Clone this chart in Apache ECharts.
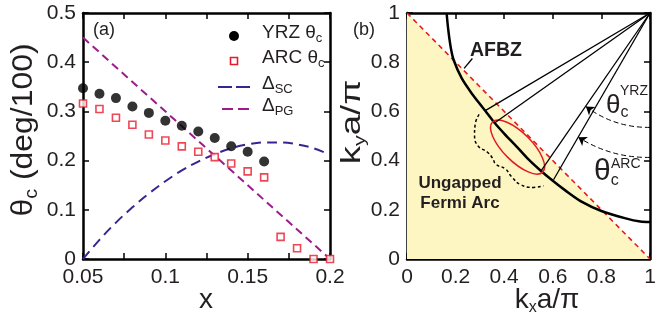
<!DOCTYPE html>
<html><head><meta charset="utf-8">
<script src="https://cdn.jsdelivr.net/npm/echarts@6/dist/echarts.min.js"></script>
<style>html,body{margin:0;padding:0;background:#fff}#c{width:668px;height:320px}</style>
</head><body><div id="c"></div>
<script>
// ---------- Panel (a) data ----------
const yrzX = [0.05,0.06,0.07,0.08,0.09,0.10,0.11,0.12,0.13,0.14,0.15,0.16];
const yrzTheta = [0.347,0.336,0.327,0.310,0.297,0.281,0.271,0.259,0.246,0.229,0.218,0.198];
const arcX = [0.05,0.06,0.07,0.08,0.09,0.10,0.11,0.12,0.13,0.14,0.15,0.16,0.17,0.18,0.19,0.20];
const arcTheta = [0.316,0.305,0.287,0.273,0.253,0.241,0.229,0.218,0.207,0.194,0.178,0.166,0.045,0.022,0.0,0.0];
const scX = [0.05,0.06,0.07,0.08,0.09,0.10,0.11,0.12,0.13,0.14,0.15,0.16,0.17,0.18,0.19,0.20];
const scGap = [0.0,0.039,0.074,0.105,0.133,0.158,0.180,0.198,0.213,0.225,0.233,0.237,0.237,0.233,0.225,0.212];
const pgX = [0.05,0.20];
const pgGap = [0.45,0.0];
const aXTickVals = [0.05,0.1,0.15,0.2];
const aXTickLabels = ['0.05','0.1','0.15','0.2'];
const aYTickLabels = ['0','0.1','0.2','0.3','0.4','0.5'];
const legendLabels = ['{n|YRZ θ}{s|c}','{n|ARC θ}{s|c}','{n|Δ}{s|SC}','{n|Δ}{s|PG}'];
// ---------- Panel (b) data ----------
const bTickLabels = ['0','0.2','0.4','0.6','0.8','1'];
const afbzKx = [0,1];
const afbzKy = [1,0];
const fsKx = [0.163,0.170,0.180,0.192,0.225,0.265,0.300,0.322,0.362,0.400,0.454,0.500,0.547,0.600,0.650,0.720,0.800,0.900,0.960,1.000];
const fsKy = [1.000,0.930,0.860,0.809,0.735,0.675,0.630,0.603,0.552,0.510,0.454,0.405,0.362,0.318,0.280,0.232,0.195,0.165,0.152,0.150];
const pocket = [0.455,0.455,0.145,0.058]; // centre kx, ky, semi-major, semi-minor (along anti-diagonal)
const wedgeApex = [1,1];
const wedgeEndsKx = [0.322,0.360,0.553,0.603];
const wedgeEndsKy = [0.603,0.553,0.360,0.322];
const arcPtrKx = [0.297,0.281,0.278,0.292,0.330,0.352,0.366,0.405,0.430,0.468,0.521,0.562];
const arcPtrKy = [0.588,0.550,0.505,0.460,0.435,0.410,0.385,0.366,0.335,0.302,0.291,0.298];
const yrzArrowKx = [1.0,0.736], yrzArrowKy = [0.535,0.620];
const arcArrowKx = [1.0,0.705], arcArrowKy = [0.413,0.495];
const afbzPtrKx = [0.269,0.235], afbzPtrKy = [0.815,0.775];

const zip = (a,b) => a.map((v,i)=>[v,b[i]]);
const FONT = '"Liberation Sans", Arial, sans-serif';
const TXT = '#231f20';
const C_SC = '#3b2392', C_PG = '#9c1c8c', C_ARC = '#e8192c', C_RED = '#e31b23';

const chart = echarts.init(document.getElementById('c'), null, {renderer:'canvas'});

function ax(grid, pos, min, max, interval, labels, fmt, margin){
  return {gridIndex:grid, type:'value', position:pos, min:min, max:max, interval:interval,
    axisLine:{show:true, onZero:false, lineStyle:{color:'#000', width:2.5}},
    axisTick:{show:true, inside:true, length:6, lineStyle:{color:'#000', width:1.5}},
    axisLabel:{show:labels, formatter:fmt, fontSize:21, color:TXT, fontFamily:FONT, margin:margin, showMinLabel:true, showMaxLabel:true},
    splitLine:{show:false}};
}
const fmtAX = v => { const i = aXTickVals.indexOf(+(+v).toFixed(3)); return i>=0 ? aXTickLabels[i] : ''; };
const fmtAY = v => aYTickLabels[Math.round(v*10)] || '';
const fmtB = v => bTickLabels[Math.round(v*5)] || '';

const legRich = {n:{fontSize:19, lineHeight:24, fontFamily:FONT, fill:TXT},
                 s:{fontSize:13, lineHeight:5, verticalAlign:'bottom', fontFamily:FONT, fill:TXT}};
const legTextY = [32.5, 57.5, 83.5, 105.5];

const option = {
  animation:false,
  backgroundColor:'#fff',
  grid:[
    {left:83, top:13, width:247, height:246},
    {left:407, top:13, width:243, height:246}
  ],
  xAxis:[
    ax(0,'bottom',0.05,0.2,0.025,true,fmtAX,8),
    ax(0,'top',0.05,0.2,0.025,false,fmtAX,8),
    ax(1,'bottom',0,1,0.2,true,fmtB,8),
    ax(1,'top',0,1,0.2,false,fmtB,8)
  ],
  yAxis:[
    ax(0,'left',0,0.5,0.1,true,fmtAY,7),
    ax(0,'right',0,0.5,0.1,false,fmtAY,7),
    ax(1,'left',0,1,0.2,true,fmtB,7),
    ax(1,'right',0,1,0.2,false,fmtB,7)
  ],
  series:[
    {name:'SC', type:'line', xAxisIndex:0, yAxisIndex:0, data:zip(scX,scGap), smooth:0.4, symbol:'none',
      lineStyle:{color:C_SC, width:2, type:[10,6]}, z:2},
    {name:'PG', type:'line', xAxisIndex:0, yAxisIndex:0, data:zip(pgX,pgGap), symbol:'none',
      lineStyle:{color:C_PG, width:2, type:[8,5]}, z:2},
    {name:'YRZ', type:'scatter', xAxisIndex:0, yAxisIndex:0, data:zip(yrzX,yrzTheta), symbol:'circle', symbolSize:10,
      itemStyle:{color:'#000'}, z:4},
    {name:'ARC', type:'scatter', xAxisIndex:0, yAxisIndex:0, data:zip(arcX,arcTheta), symbol:'rect', symbolSize:7,
      itemStyle:{color:'#fff', borderColor:C_ARC, borderWidth:1.6}, z:3},
    // panel b
    {name:'fill', type:'line', xAxisIndex:2, yAxisIndex:2, data:zip(afbzKx,afbzKy), symbol:'none',
      lineStyle:{width:0}, areaStyle:{color:'#fdf6c3', opacity:1}, z:1, silent:true},
    {name:'AFBZ', type:'line', xAxisIndex:2, yAxisIndex:2, data:zip(afbzKx,afbzKy), symbol:'none',
      lineStyle:{color:C_RED, width:1.6, type:[5,4]}, z:3, silent:true},
    {name:'FS', type:'line', xAxisIndex:2, yAxisIndex:2, data:zip(fsKx,fsKy), symbol:'none', smooth:0.3,
      lineStyle:{color:'#000', width:2.5}, z:4, silent:true},
    {name:'pocket', type:'custom', xAxisIndex:2, yAxisIndex:2, data:[pocket], silent:true, z:5,
      renderItem:(params, api) => {
        const c = api.coord([api.value(0), api.value(1)]);
        const s = api.size([1,1]);
        const sc = (s[0]+s[1])/2;
        return {type:'ellipse', x:c[0], y:c[1], rotation:-Math.PI/4,
          shape:{cx:0, cy:0, rx:api.value(2)*sc, ry:api.value(3)*sc},
          style:{fill:'none', stroke:C_RED, lineWidth:1.5}};
      }},
    {name:'wedges', type:'lines', coordinateSystem:'cartesian2d', xAxisIndex:2, yAxisIndex:2, silent:true, z:6,
      data: wedgeEndsKx.map((kx,i)=>({coords:[wedgeApex,[kx,wedgeEndsKy[i]]]})),
      lineStyle:{color:'#000', width:1.3, opacity:1}},
    {name:'afbzPtr', type:'lines', coordinateSystem:'cartesian2d', xAxisIndex:2, yAxisIndex:2, silent:true, z:6,
      data:[{coords:zip(afbzPtrKx,afbzPtrKy)}], lineStyle:{color:'#000', width:1.3, opacity:1}},
    {name:'arcPtr', type:'line', xAxisIndex:2, yAxisIndex:2, data:zip(arcPtrKx,arcPtrKy), symbol:'none', smooth:0.5,
      lineStyle:{color:'#000', width:1.5, type:[3,2.5]}, z:6, silent:true},
    {name:'arrows', type:'lines', coordinateSystem:'cartesian2d', xAxisIndex:2, yAxisIndex:2, silent:true, z:6,
      symbol:['none','arrow'], symbolSize:8,
      data:[
        {coords:zip(yrzArrowKx,yrzArrowKy), lineStyle:{curveness:0.17}},
        {coords:zip(arcArrowKx,arcArrowKy), lineStyle:{curveness:0.15}}
      ],
      lineStyle:{color:'#000', width:1, type:[5,3], opacity:1}}
  ],
  graphic:[
    // legend of panel (a)
    {type:'circle', shape:{cx:234, cy:36, r:5}, style:{fill:'#000'}, z:10},
    {type:'rect', shape:{x:230.5, y:57.5, width:7, height:7}, style:{fill:'#fff', stroke:C_ARC, lineWidth:1.6}, z:10},
    {type:'line', shape:{x1:218, y1:87, x2:250, y2:87}, style:{stroke:C_SC, lineWidth:2, lineDash:[14,4]}, z:10},
    {type:'line', shape:{x1:222, y1:109, x2:250, y2:109}, style:{stroke:C_PG, lineWidth:2, lineDash:[11,5]}, z:10},
    ...legendLabels.map((t,i)=>({type:'text', x:262, y:legTextY[i], z:10,
      style:{text:t, textAlign:'left', textVerticalAlign:'middle', fill:TXT, rich:legRich}})),
    // panel labels and axis titles
    {type:'text', x:104, y:30, style:{text:'(a)', font:'18px '+FONT, fill:TXT, textAlign:'center', textVerticalAlign:'middle'}},
    {type:'text', x:364, y:30, style:{text:'(b)', font:'18px '+FONT, fill:TXT, textAlign:'center', textVerticalAlign:'middle'}},
    {type:'text', x:206, y:300, style:{text:'x', font:'28px '+FONT, fill:TXT, textAlign:'center', textVerticalAlign:'middle'}},
    {type:'text', x:24, y:130, rotation:Math.PI/2, scaleX:1.1,
      style:{text:'{t|θ}{s|c}{t| (deg/100)}', textAlign:'center', textVerticalAlign:'middle', fill:TXT,
        rich:{t:{fontSize:29, lineHeight:34, fontFamily:FONT, fill:TXT}, s:{fontSize:18, lineHeight:20, verticalAlign:'bottom', fontFamily:FONT, fill:TXT}}}},
    {type:'text', x:353, y:122, rotation:Math.PI/2, scaleX:1.35,
      style:{text:'{t|k}{s|y}{t|a/π}', textAlign:'center', textVerticalAlign:'middle', fill:TXT,
        rich:{t:{fontSize:27, lineHeight:32, fontFamily:FONT, fill:TXT}, s:{fontSize:16, lineHeight:24, verticalAlign:'bottom', fontFamily:FONT, fill:TXT}}}},
    {type:'text', x:547, y:300,
      style:{text:'{t|k}{s|x}{t|a/π}', textAlign:'center', textVerticalAlign:'middle', fill:TXT,
        rich:{t:{fontSize:28, lineHeight:32, fontFamily:FONT, fill:TXT}, s:{fontSize:16, lineHeight:24, verticalAlign:'bottom', fontFamily:FONT, fill:TXT}}}},
    // annotations of panel (b)
    {type:'text', x:496, y:51, z:10, style:{text:'AFBZ', font:'bold 19.5px '+FONT, fill:TXT, textAlign:'center', textVerticalAlign:'middle'}},
    {type:'text', x:460, y:183, z:10, style:{text:'Ungapped', font:'bold 17px '+FONT, fill:TXT, textAlign:'center', textVerticalAlign:'middle'}},
    {type:'text', x:460, y:203, z:10, style:{text:'Fermi Arc', font:'bold 17px '+FONT, fill:TXT, textAlign:'center', textVerticalAlign:'middle'}},
    {type:'text', x:606, y:106, z:10,
      style:{text:'{t|θ}{s|c}', textAlign:'left', textVerticalAlign:'middle', fill:TXT,
        rich:{t:{fontSize:26, lineHeight:30, fontFamily:FONT, fill:TXT}, s:{fontSize:16, lineHeight:22, verticalAlign:'bottom', fontFamily:FONT, fill:TXT}}}},
    {type:'text', x:620, y:91, z:10, style:{text:'YRZ', font:'14px '+FONT, fill:TXT, textAlign:'left', textVerticalAlign:'middle'}},
    {type:'text', x:594, y:172, z:10,
      style:{text:'{t|θ}{s|c}', textAlign:'left', textVerticalAlign:'middle', fill:TXT,
        rich:{t:{fontSize:30, lineHeight:34, fontFamily:FONT, fill:TXT}, s:{fontSize:16, lineHeight:19, verticalAlign:'bottom', fontFamily:FONT, fill:TXT}}}},
    {type:'text', x:611, y:164, z:10, style:{text:'ARC', font:'14px '+FONT, fill:TXT, textAlign:'left', textVerticalAlign:'middle'}}
  ]
};
chart.setOption(option);
</script>
</body></html>
